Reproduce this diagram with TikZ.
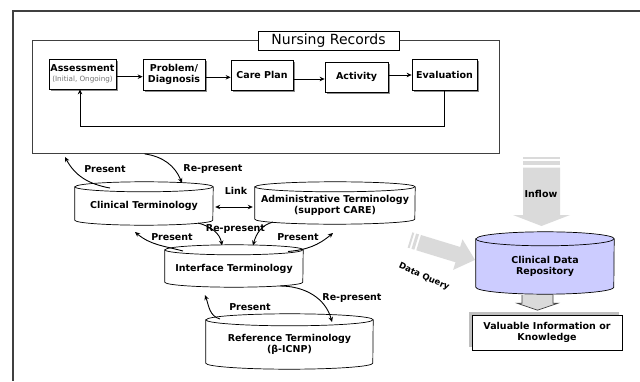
\documentclass[tikz,border=0pt]{standalone}
\usepackage{fontspec}
\setmainfont{DejaVu Sans}
\usetikzlibrary{arrows.meta,calc,backgrounds,shadows}

\definecolor{lavender}{RGB}{204,204,255}
\definecolor{flowgray}{RGB}{218,218,218}
\definecolor{framegray}{RGB}{64,64,64}

% Cylinder outline drawn around a named node: the node's north edge is the
% centre line of the top ellipse, its south edge the lowest point of the drum.
% #1 node name, #2 half width, #3 ellipse y radius, #4 fill colour
\newcommand\drumshape[4]{%
  \begin{scope}[on background layer]
    \filldraw[fill=#4, draw=black, line width=0.7pt]
      (#1.north west) -- ([yshift=#3pt]#1.south west)
      arc[start angle=180, end angle=360, x radius=#2pt, y radius=#3pt]
      -- (#1.north east)
      arc[start angle=0, end angle=180, x radius=#2pt, y radius=#3pt] -- cycle;
    \draw[line width=0.7pt] (#1.north west)
      arc[start angle=180, end angle=360, x radius=#2pt, y radius=#3pt];
  \end{scope}}

\begin{document}
\begin{tikzpicture}[x=1pt, y=1pt,
  lbl/.style={font=\bfseries\fontsize{9.5}{11}\selectfont, inner sep=0pt},
  procbox/.style={draw=black, line width=0.7pt, fill=white, inner sep=1pt,
    align=center, font=\bfseries\fontsize{9.5}{11}\selectfont,
    drop shadow={shadow xshift=2pt, shadow yshift=-2pt, fill=black!45, opacity=1}},
  drum/.style={draw=none, inner sep=0pt, align=center,
    font=\bfseries\fontsize{9.5}{11.5}\selectfont},
  arr/.style={-{Stealth[length=5pt,width=4.5pt]}, line width=0.9pt},
  dblarr/.style={{Stealth[length=5pt,width=4.5pt]}-{Stealth[length=5pt,width=4.5pt]}, line width=0.9pt},
]
\useasboundingbox (0,0) rectangle (640,381);

% outer frame (open to the right and bottom)
\draw[framegray, line width=1.2pt] (640,370) -- (13,370) -- (13,0);

% ---------------- nursing records process ----------------
\node[draw=framegray, line width=0.8pt, minimum width=467pt, minimum height=113.5pt,
      inner sep=0pt] (nr) at (265.5,284.25) {};
\node[draw=black, line width=0.7pt, fill=white, minimum width=141pt, minimum height=19pt,
      inner sep=0pt, font=\fontsize{14}{16}\selectfont] (nrt) at (328.5,340.5) {Nursing Records};

\node[procbox, minimum width=67pt, minimum height=30pt, inner sep=0pt] (asm) at (82.5,307)
  {Assessment\\[-1pt]{\mdseries\color{black!55}\fontsize{7.2}{8}\selectfont(Initial, Ongoing)}};
\node[procbox, minimum width=62pt, minimum height=31pt] (prb) at (174,306.5) {Problem/\\Diagnosis};
\node[procbox, minimum width=62pt, minimum height=30pt] (care) at (262,306) {Care Plan};
\node[procbox, minimum width=63pt, minimum height=30pt] (act) at (356.5,304) {Activity};
\node[procbox, minimum width=65pt, minimum height=31pt] (evl) at (444.5,306.5) {Evaluation};

\draw[arr] ([yshift=-2.7pt]asm.east) -- ([yshift=-2.7pt]asm.east -| prb.west);
\draw[arr] ([yshift=-2.8pt]prb.east) -- ([yshift=-2.8pt]prb.east -| care.west);
\draw[arr] ([yshift=-4pt]care.east) -- ([yshift=-4pt]care.east -| act.west);
\draw[arr] ([yshift=2pt]act.east) -- ([yshift=2pt]act.east -| evl.west);

\coordinate (fbk) at (80,255);
\draw[arr] (evl.south) |- (fbk) -- (asm.south -| fbk);

% ---------------- terminology drums ----------------
\node[drum, minimum width=138pt, minimum height=38pt] (clin) at (144,175) {Clinical Terminology};
\drumshape{clin}{69}{5}{white}
\node[drum, minimum width=160pt, minimum height=37pt] (adm) at (335,175.5)
  {Administrative Terminology\\(support CARE)};
\drumshape{adm}{80}{5}{white}
\node[drum, minimum width=138pt, minimum height=37pt] (intf) at (234,112.5) {Interface Terminology};
\drumshape{intf}{69}{5}{white}
\node[drum, minimum width=167pt, minimum height=49pt] (ref) at (289.5,36.5)
  {Reference Terminology\\(β-ICNP)};
\drumshape{ref}{83.5}{6}{white}

% clinical terminology <-> nursing records
\coordinate (upleft) at (65,224);
\draw[arr] ($(clin.center)+(-34,18)$) to[out=170, in=-62] (upleft);
\node[lbl] (lp1) at (105,212) {Present};
\draw[arr] ($(nr.south west)+(113,0)$) to[out=-8, in=112] ($(clin.center)+(38,23)$);
\node[lbl] (lr1) at (213,212) {Re-present};

% link between clinical and administrative terminology
\draw[dblarr, shorten <=2pt, shorten >=2pt] ([yshift=-1pt]clin.east) -- ([yshift=-1pt]clin.east -| adm.west);
\node[lbl] (llink) at (236,190) {Link};

% interface terminology <-> clinical / administrative
\draw[arr] ($(intf.center)+(-51,17.5)$) to[out=165, in=-40] ($(clin.center)+(-9,-26)$);
\node[lbl] (lp2) at (172,144) {Present};
\draw[arr] ($(clin.center)+(54,-17)$) to[out=-15, in=100] ($(intf.center)+(-12,23)$);
\node[lbl] (lr2) at (235.5,152) {Re-present};
\draw[arr] ($(adm.center)+(-62,-16.5)$) to[out=195, in=75] ($(intf.center)+(19,23)$);
\draw[arr] ($(intf.center)+(54,17)$) to[out=5, in=220] ($(adm.center)+(-2,-27.5)$);
\node[lbl] (lp3) at (298,144) {Present};

% reference terminology <-> interface
\draw[arr] ($(ref.center)+(-69.5,25.5)$) to[out=165, in=-70] ($(intf.center)+(-29,-26.5)$);
\node[lbl] (lp4) at (250,74.3) {Present};
\draw[arr] ($(intf.center)+(46,-17.5)$) to[out=0, in=105] ($(ref.center)+(42.5,22.5)$);
\node[lbl] (lr3) at (352,83.3) {Re-present};

% ---------------- clinical data repository ----------------
\node[drum, minimum width=138pt, minimum height=55pt] (cdr) at (545,114.5)
  {Clinical Data\\Repository};
\drumshape{cdr}{69}{7}{lavender}

% inflow block arrow
\fill[flowgray] (523,221.7) rectangle (560,223.7);
\fill[flowgray] (523,215.7) rectangle (560,219.7);
\fill[flowgray] (523,213.3) -- (523,166) -- (513,166) -- (541.5,155)
  -- (570,166) -- (560,166) -- (560,213.3) -- cycle;
\node[lbl] (linflow) at (541,187) {Inflow};

% data query block arrow
\begin{scope}[shift={(410,141)}, rotate=-17]
  \fill[flowgray] (0,-8) rectangle (2,8);
  \fill[flowgray] (4,-8) rectangle (7,8);
  \fill[flowgray] (9,-8) -- (50,-8) -- (50,-16) -- (68,0) -- (50,16) -- (50,8) -- (9,8) -- cycle;
\end{scope}
\node[lbl, font=\bfseries\fontsize{8.5}{10}\selectfont, rotate=-24] (lquery) at (424,104) {Data Query};

% result box with its down arrow
\node[draw=black, line width=0.7pt, fill=white, minimum width=150pt, minimum height=35pt,
      inner sep=0pt, align=center, font=\bfseries\fontsize{9.5}{11.5}\selectfont,
      drop shadow={shadow xshift=-3.5pt, shadow yshift=3.5pt, fill=black!25, opacity=1}]
      (know) at (547,48.5) {Valuable Information or\\Knowledge};
\filldraw[fill=flowgray, draw=framegray, line width=0.7pt]
  ($(cdr.south)+(-23,-1)$) -- ($(cdr.south)+(-23,-9)$) -- ($(cdr.south)+(-28,-9)$)
  -- ($(cdr.south)+(-7.5,-16)$) -- ($(cdr.south)+(13,-9)$) -- ($(cdr.south)+(8,-9)$)
  -- ($(cdr.south)+(8,-1)$);
\end{tikzpicture}
\end{document}
